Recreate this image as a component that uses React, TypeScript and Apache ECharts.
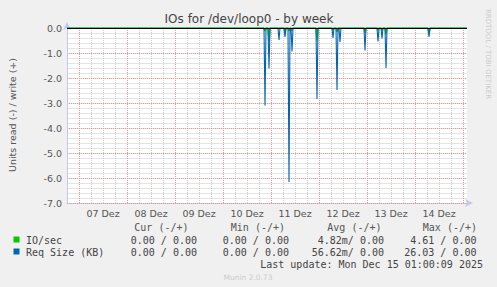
import React, { useEffect, useRef } from "react";
import * as echarts from "echarts";

// Hours relative to 07 Dez 00:00 (plot spans 06 Dez 18:00 .. 15 Dez 02:00)
const xMin = -6;
const xMax = 194;
const dayLabels = ["07 Dez", "08 Dez", "09 Dez", "10 Dez", "11 Dez", "12 Dez", "13 Dez", "14 Dez"];

// spikes (30-min samples), read values are negative
const spikeHours = [93, 95, 100, 103, 105, 106.5, 119, 127, 129, 130.5, 143, 149.5, 151.5, 153.5, 175];
const reqSizeValues = [-3.1, -1.62, -0.48, -0.36, -6.16, -0.94, -2.84, -0.4, -2.48, -0.56, -0.9, -0.54, -0.42, -1.6, -0.36];
const ioValues = [-0.12, -0.55, 0, -0.2, -0.12, -0.1, -0.5, -0.1, -0.15, 0, -0.2, -0.1, -0.1, -0.25, -0.25];

const yTicks = { min: -7, max: 0, interval: 1, minorInterval: 0.2 };

const legendHeaders = ["Cur (-/+)", "Min (-/+)", "Avg (-/+)", "Max (-/+)"];
const ioRow = ["0.00 / 0.00", "0.00 / 0.00", "4.82m/ 0.00", "4.61 / 0.00"];
const reqRow = ["0.00 / 0.00", "0.00 / 0.00", "56.62m/ 0.00", "26.03 / 0.00"];
const lastUpdate = "Last update: Mon Dec 15 01:00:09 2025";

function buildSeries(hours: number[], vals: number[]) {
  const out: number[][] = [[xMin, 0]];
  hours.forEach((h, i) => {
    out.push([h - 0.5, 0]);
    out.push([h, vals[i]]);
    out.push([h + 0.5, 0]);
  });
  out.push([xMax, 0]);
  return out;
}

export default function App() {
  const ref = useRef<HTMLDivElement>(null);
  useEffect(() => {
    if (!ref.current) return;
    const chart = echarts.init(ref.current, null, { renderer: "svg" });
    const sans = "DejaVu Sans";
    const mono = "DejaVu Sans Mono";
    const headerX = [188.5, 285, 381.5, 477];
    const valueX = [197, 289, 384, 476.5];
    const graphics: any[] = [
      {
        type: "text", x: 249, y: 19,
        style: { text: "IOs for /dev/loop0 - by week", font: `12px ${sans}`, fill: "#444", textAlign: "center", textVerticalAlign: "middle" },
      },
      {
        type: "text", x: 12, y: 115, rotation: Math.PI / 2,
        style: { text: "Units read (-) / write (+)", font: `9.5px ${sans}`, fill: "#555", textAlign: "center", textVerticalAlign: "middle" },
      },
      {
        type: "text", x: 488, y: 54, rotation: -Math.PI / 2,
        style: { text: "RRDTOOL / TOBI OETIKER", font: `7px ${sans}`, fill: "#ccc", textAlign: "center", textVerticalAlign: "middle" },
      },
      { type: "rect", shape: { x: 13.5, y: 236.5, width: 6, height: 6 }, style: { fill: "#00cc00" } },
      { type: "rect", shape: { x: 13.5, y: 248.5, width: 6, height: 6 }, style: { fill: "#0066b3" } },
      { type: "text", x: 26, y: 240, style: { text: "IO/sec", font: `10px ${mono}`, fill: "#444", textVerticalAlign: "middle" } },
      { type: "text", x: 26, y: 252, style: { text: "Req Size (KB)", font: `10px ${mono}`, fill: "#444", textVerticalAlign: "middle" } },
      { type: "text", x: 483, y: 264, style: { text: lastUpdate, font: `10px ${mono}`, fill: "#444", textAlign: "right", textVerticalAlign: "middle" } },
      { type: "text", x: 248, y: 277, style: { text: "Munin 2.0.73", font: `7.5px ${sans}`, fill: "#ccc", textAlign: "center", textVerticalAlign: "middle" } },
    ];
    legendHeaders.forEach((h, i) => {
      graphics.push({ type: "text", x: headerX[i], y: 227, style: { text: h, font: `10px ${mono}`, fill: "#555", textAlign: "right", textVerticalAlign: "middle" } });
    });
    ioRow.forEach((t, i) => {
      graphics.push({ type: "text", x: valueX[i], y: 240, style: { text: t, font: `10px ${mono}`, fill: "#444", textAlign: "right", textVerticalAlign: "middle" } });
    });
    reqRow.forEach((t, i) => {
      graphics.push({ type: "text", x: valueX[i], y: 252, style: { text: t, font: `10px ${mono}`, fill: "#444", textAlign: "right", textVerticalAlign: "middle" } });
    });

    const axisColor = "#c4c8f0";
    const red = "#e89a9a";
    const gray = "#cfcfcf";
    chart.setOption({
      animation: false,
      backgroundColor: "#f0f0f0",
      grid: { left: 67, right: 30, top: 28, bottom: 84, show: true, backgroundColor: "#ffffff", borderWidth: 0 },
      xAxis: {
        type: "value",
        min: xMin,
        max: xMax,
        interval: 6,
        axisLine: { show: true, onZero: false, lineStyle: { color: axisColor }, symbol: ["none", "arrow"], symbolSize: [6, 8], symbolOffset: [0, 6] },
        axisTick: { show: false },
        axisLabel: {
          interval: 0,
          margin: 5,
          color: "#555",
          fontFamily: sans,
          fontSize: 9.5,
          formatter: (v: number) => {
            const r = ((v % 24) + 24) % 24;
            if (r !== 12) return "";
            const idx = (v - 12) / 24;
            return dayLabels[idx] ?? "";
          },
        },
        splitLine: {
          show: true,
          showMaxLine: false,
          lineStyle: { color: [gray, red, gray, gray], type: [1, 1], width: 1 },
        },
      },
      yAxis: [
        {
          type: "value",
          min: yTicks.min,
          max: yTicks.max,
          interval: yTicks.minorInterval,
          position: "left",
          axisLine: { show: false },
          axisTick: { show: false },
          axisLabel: { show: false },
          splitLine: { show: true, lineStyle: { color: "#e4e4e4", type: "solid", width: 1 } },
          z: 0,
        },
        {
          type: "value",
          min: yTicks.min,
          max: yTicks.max,
          interval: yTicks.interval,
          position: "left",
          axisLine: { show: true, onZero: false, lineStyle: { color: axisColor }, symbol: ["none", "arrow"], symbolSize: [6, 8], symbolOffset: [0, 6] },
          axisTick: { show: false },
          axisLabel: { margin: 5, color: "#555", fontFamily: sans, fontSize: 9.5, formatter: (v: number) => v.toFixed(1) },
          splitLine: { show: true, lineStyle: { color: red, type: [1, 1], width: 1 } },
          z: 1,
        },
      ],
      series: [
        {
          name: "IO/sec",
          type: "line",
          yAxisIndex: 1,
          data: buildSeries(spikeHours, ioValues),
          showSymbol: false,
          symbol: "none",
          lineStyle: { color: "#00cc00", width: 1.5 },
          z: 2,
        },
        {
          name: "Req Size (KB)",
          type: "line",
          yAxisIndex: 1,
          data: buildSeries(spikeHours, reqSizeValues),
          showSymbol: false,
          symbol: "none",
          lineStyle: { color: "#0066b3", width: 1.1 },
          z: 3,
          markLine: {
            silent: true,
            symbol: "none",
            label: { show: false },
            lineStyle: { color: "#000", width: 1, type: "solid" },
            data: [{ yAxis: 0 }],
          },
        },
      ],
      graphic: graphics,
    });
    return () => chart.dispose();
  }, []);
  return <div ref={ref} style={{ width: 497, height: 287, position: "absolute", left: 0, top: 0 }} />;
}
